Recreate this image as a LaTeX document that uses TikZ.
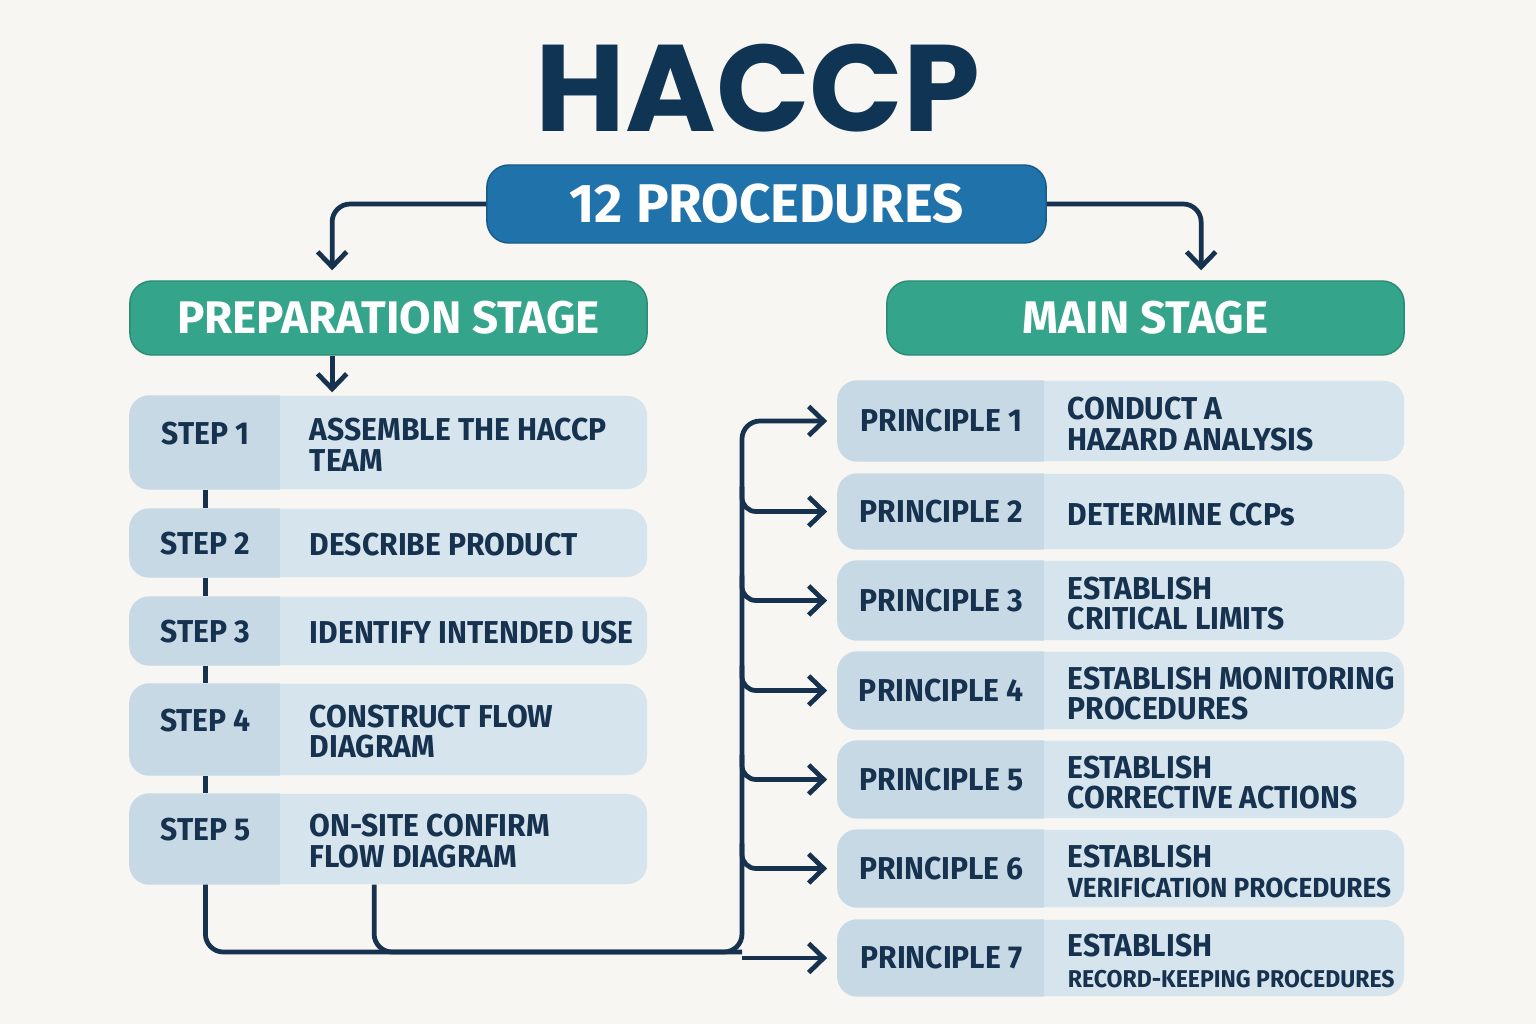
\documentclass[tikz,border=0pt]{standalone}
\usepackage{fontspec}
\setmainfont{Fira Sans}
\newfontfamily\rowfont{Fira Sans}[FakeStretch=0.95]
\newfontfamily\titlefont{Poppins}
\usetikzlibrary{calc}
\usetikzlibrary{arrows.meta}

\definecolor{paper}{HTML}{F7F6F2}
\definecolor{navy}{HTML}{0F3454}
\definecolor{ink}{HTML}{16324F}
\definecolor{procblue}{HTML}{1F72AA}
\definecolor{stagegreen}{HTML}{34A48A}
\definecolor{rowdark}{HTML}{C8D9E6}
\definecolor{rowlight}{HTML}{D6E4ED}

\tikzset{
    link/.style={draw=ink, line width=1.35pt, rounded corners=1.8mm},
    flow/.style={link, -{Straight Barb[length=1.5mm, width=2.9mm]}, shorten >=1mm},
    headbox/.style={rounded corners=2.2mm, inner sep=0pt},
    rowbox/.style={fill=rowlight, rounded corners=2mm, inner sep=0pt},
    tagtext/.style={inner sep=0pt, text=ink, font=\rowfont\bfseries\fontsize{9}{11}\selectfont},
    rowtext/.style={inner sep=0pt, text=ink, align=left, font=\rowfont\bfseries\fontsize{9}{8.8}\selectfont},
}

\begin{document}
\begin{tikzpicture}[x=0.01cm, y=-0.01cm]

    \useasboundingbox[fill=paper] (0,0) rectangle (1536,1024);

    % headings
    \node[text=navy, font=\titlefont\bfseries\fontsize{35}{40}\selectfont] (title) at (758,88) {HACCP};
    \node[headbox, fill=procblue, draw=procblue!80!black, line width=0.4pt, minimum width=5.59cm, minimum height=0.78cm,
          text=white, font=\bfseries\fontsize{15.5}{18}\selectfont] (proc) at (766.5,204) {12 PROCEDURES};
    \node[headbox, fill=stagegreen, draw=stagegreen!85!black, line width=0.4pt, minimum width=5.17cm, minimum height=0.74cm,
          text=white, font=\bfseries\fontsize{13}{16}\selectfont] (prep) at (388.5,318) {PREPARATION STAGE};
    \node[headbox, fill=stagegreen, draw=stagegreen!85!black, line width=0.4pt, minimum width=5.17cm, minimum height=0.74cm,
          text=white, font=\bfseries\fontsize{13}{16}\selectfont] (main) at (1145.5,318) {MAIN STAGE};

    % preparation steps
    \foreach \i/\yc/\h/\dy/\txt in {1/442.5/0.93cm/-9/{ASSEMBLE THE HACCP\\TEAM},
                                    2/543/0.68cm/1/{DESCRIBE PRODUCT},
                                    3/631/0.68cm/1/{IDENTIFY INTENDED USE},
                                    4/729.5/0.91cm/-9/{CONSTRUCT FLOW\\DIAGRAM},
                                    5/839/0.90cm/-9/{ON-SITE CONFIRM\\FLOW DIAGRAM}}{
        \node[rowbox, minimum width=5.17cm, minimum height=\h] (s\i) at (388.5,\yc) {};
        \begin{scope}
            \clip[rounded corners=2mm] (s\i.north west) rectangle (s\i.south east);
            \fill[rowdark] (s\i.north west) rectangle ($(s\i.south west)+(151,0)$);
        \end{scope}
        \node[inner sep=0pt, minimum width=1.51cm, minimum height=\h, anchor=west] (s\i-tag) at (s\i.west) {};
        \node[tagtext] at ($(s\i-tag.center)+(0,\dy)$) {STEP \i};
        \node[rowtext, anchor=west] (s\i-text) at ($(s\i.west)+(180,2)$) {\txt};
    }

    % principles
    \foreach \i/\yc/\h/\txt in {1/421/0.80cm/{CONDUCT A\\HAZARD ANALYSIS},
                                2/511.5/0.75cm/{DETERMINE CCPs},
                                3/600.5/0.79cm/{ESTABLISH\\CRITICAL LIMITS},
                                4/690.5/0.77cm/{ESTABLISH MONITORING\\PROCEDURES},
                                5/779.5/0.77cm/{ESTABLISH\\CORRECTIVE ACTIONS},
                                6/868.5/0.77cm/{ESTABLISH\\{\fontsize{7.85}{8.8}\selectfont VERIFICATION PROCEDURES}},
                                7/958/0.76cm/{ESTABLISH\\{\fontsize{6.9}{8.8}\selectfont RECORD-KEEPING PROCEDURES}}}{
        \node[rowbox, minimum width=5.66cm, minimum height=\h] (p\i) at (1121,\yc) {};
        \begin{scope}
            \clip[rounded corners=2mm] (p\i.north west) rectangle (p\i.south east);
            \fill[rowdark] (p\i.north west) rectangle ($(p\i.south west)+(207,0)$);
        \end{scope}
        \node[tagtext, minimum width=2.07cm, minimum height=\h, anchor=west] (p\i-tag) at (p\i.west) {PRINCIPLE \i};
        \node[rowtext, anchor=west] (p\i-text) at ($(p\i.west)+(230,3)$) {\txt};
    }

    % connectors
    \draw[flow] (proc.west) -| ($(prep.north west)+(203,0)$);
    \draw[flow] (proc.east) -| ($(main.north west)+(315,0)$);
    \draw[flow, shorten >=0.3mm] ($(prep.south west)+(203,0)$) -- ($(s1.north west)+(203,0)$);

    \foreach \i/\j in {1/2, 2/3, 3/4, 4/5}{
        \draw[link] (s\i-tag.south) -- (s\j-tag.north);
    }

    \coordinate (bus) at (742,952);
    \coordinate (tap) at ($(s5.south west)+(245,0)$);
    \draw[flow] (s5-tag.south) |- (bus) |- (p1-tag.west);
    \draw[link] (tap) |- (bus);
    \foreach \i in {2,...,6}{
        \coordinate (trunk\i) at ($(bus |- p\i-tag.west)+(0,-25)$);
        \draw[flow, rounded corners=1.4mm] (trunk\i) |- (p\i-tag.west);
    }
    \draw[flow] (bus |- p7-tag.west) -- (p7-tag.west);

\end{tikzpicture}
\end{document}
